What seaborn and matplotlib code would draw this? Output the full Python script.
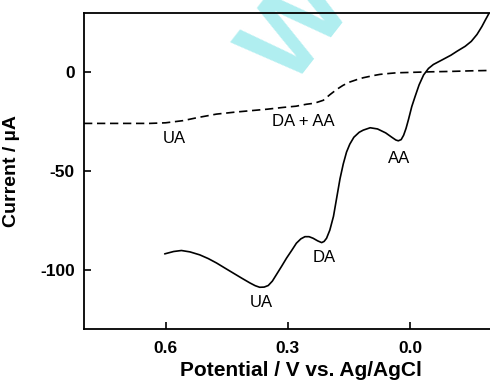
import matplotlib
matplotlib.use("Agg")
import matplotlib.pyplot as plt
import seaborn as sns
import pandas as pd

# ---- data ----
solid_v = [0.602, 0.580, 0.561, 0.540, 0.516, 0.495, 0.475, 0.455, 0.434, 0.413,
           0.393, 0.380, 0.369, 0.358, 0.348, 0.338, 0.328, 0.315, 0.303, 0.290,
           0.279, 0.268, 0.258, 0.248, 0.238, 0.227, 0.217, 0.211, 0.205, 0.197,
           0.188, 0.180, 0.172, 0.164, 0.156, 0.148, 0.138, 0.125, 0.115, 0.098,
           0.080, 0.060, 0.045, 0.035, 0.029, 0.022, 0.016, 0.010, 0.004, -0.004,
           -0.012, -0.022, -0.033, -0.045, -0.057, -0.080, -0.100, -0.115, -0.135,
           -0.150, -0.164, -0.176, -0.185, -0.193]
solid_i = [-92.0, -90.8, -90.3, -91.0, -92.5, -94.4, -96.6, -99.1, -101.7, -104.3,
           -106.7, -108.1, -108.9, -108.8, -108.0, -105.8, -102.5, -98.2, -94.1, -90.1,
           -86.6, -84.4, -83.3, -83.3, -84.1, -85.4, -86.3, -85.7, -84.1, -80.0,
           -73.0, -63.5, -54.0, -46.5, -40.5, -36.5, -33.0, -30.5, -29.4, -28.2,
           -28.8, -30.8, -33.0, -34.4, -34.8, -34.2, -32.0, -28.5, -24.0, -17.5,
           -12.5, -6.5, -1.5, 1.8, 3.8, 6.3, 8.5, 10.5, 13.0,
           15.5, 19.0, 23.0, 26.5, 29.5]

dash_v = [0.80, 0.70, 0.639, 0.600, 0.557, 0.520, 0.475, 0.430, 0.393, 0.350,
          0.311, 0.280, 0.254, 0.235, 0.213, 0.197, 0.180, 0.165, 0.150, 0.130,
          0.115, 0.090, 0.074, 0.050, 0.033, 0.000, -0.050, -0.100, -0.150, -0.200]
dash_i = [-26.0, -26.0, -26.0, -25.7, -24.6, -23.0, -21.3, -20.3, -19.6, -18.8,
          -17.9, -17.3, -16.3, -15.8, -14.3, -11.5, -8.8, -6.8, -5.2, -3.8,
          -2.9, -1.8, -1.2, -0.7, -0.4, -0.2, 0.1, 0.3, 0.6, 0.8]

labels = ["UA", "DA + AA", "UA", "DA", "AA"]
label_v = [0.578, 0.263, 0.364, 0.212, 0.027]
label_i = [-33.7, -25.1, -116.6, -93.9, -43.6]

x_ticks = [0.6, 0.3, 0.0]
x_ticklabels = ["0.6", "0.3", "0.0"]
y_ticks = [0, -50, -100]
y_ticklabels = ["0", "-50", "-100"]

# ---- plotting ----
sns.set_theme(style="ticks")
plt.rcParams["font.family"] = ["Liberation Sans", "DejaVu Sans"]
for k in ["text.color", "axes.labelcolor", "xtick.color", "ytick.color",
          "axes.edgecolor"]:
    plt.rcParams[k] = "black"

fig = plt.figure(figsize=(4.9, 3.91), dpi=100)
ax = fig.add_axes([0.1714, 0.1586, 0.832, 0.8089])
ax.set_facecolor("none")

df_solid = pd.DataFrame({"V": solid_v, "I": solid_i})
df_dash = pd.DataFrame({"V": dash_v, "I": dash_i})
sns.lineplot(data=df_solid, x="V", y="I", sort=False, color="black", lw=1.2, ax=ax)
sns.lineplot(data=df_dash, x="V", y="I", sort=False, color="black", lw=1.2, ax=ax)
ax.lines[-1].set_dashes([5.0, 2.8])

for t, v, i in zip(labels, label_v, label_i):
    ax.text(v, i, t, ha="center", va="center", fontsize=12, color="black")

ax.set_xlim(0.8, -0.2)
ax.set_ylim(-130, 30)
ax.set_xticks(x_ticks)
ax.set_xticklabels(x_ticklabels, fontweight="bold", fontsize=12.5)
ax.set_yticks(y_ticks)
ax.set_yticklabels(y_ticklabels, fontweight="bold", fontsize=12.5)
ax.tick_params(direction="in", length=5, width=1.2, color="black")
ax.tick_params(axis="x", pad=8.5)
ax.tick_params(axis="y", pad=6.5)

ax.set_xlabel("Potential / V vs. Ag/AgCl", fontweight="bold", fontsize=15)
ax.set_ylabel("Current / µA", fontweight="bold", fontsize=14)
ax.xaxis.set_label_coords(0.532, -0.10)
ax.yaxis.set_label_coords(-0.157, 0.5)

for s in ["left", "bottom", "top"]:
    ax.spines[s].set_color("black")
    ax.spines[s].set_linewidth(1.3)
ax.spines["right"].set_visible(False)

# watermark fragment
fig.text(0.612, 0.925, "W", fontsize=80, fontweight="bold", color="#b0eef0",
         rotation=52, ha="center", va="center", zorder=-1)

fig.savefig("out.png", dpi=100, facecolor="white")
